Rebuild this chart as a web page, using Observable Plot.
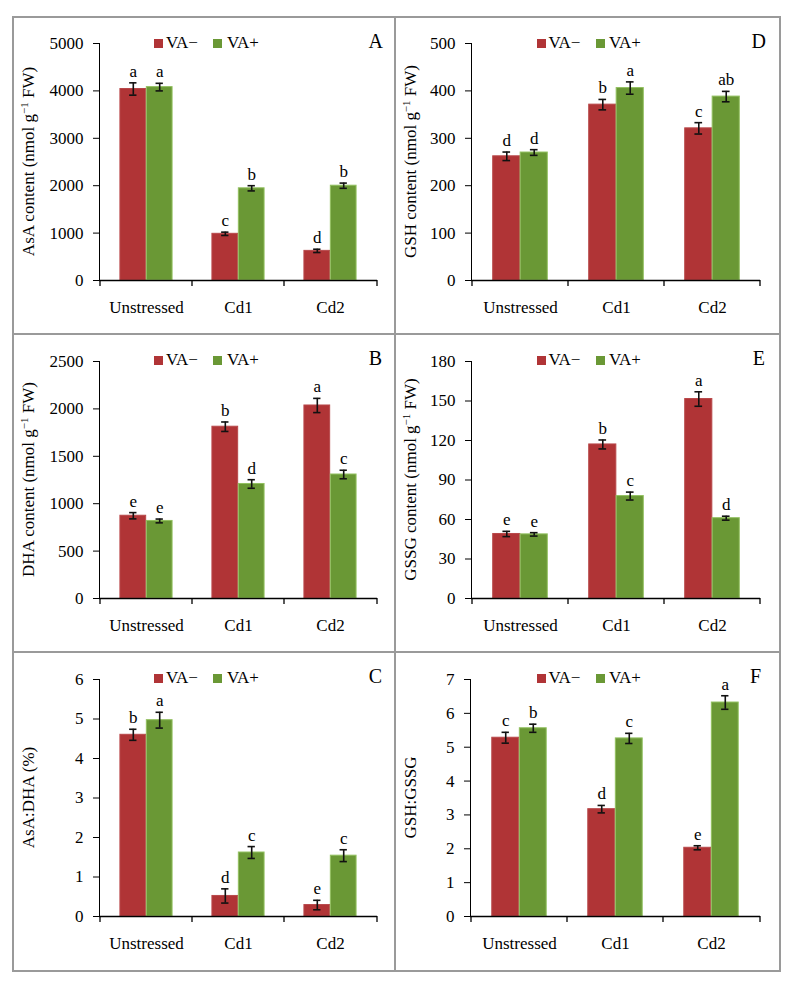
<!DOCTYPE html>
<html><head><meta charset="utf-8">
<script src="https://cdn.jsdelivr.net/npm/d3@7"></script>
<script src="https://cdn.jsdelivr.net/npm/@observablehq/plot@0.6"></script>
<style>
body{margin:0;background:#fff;}
#root{position:relative;width:798px;height:987px;font-family:"Liberation Serif","Times New Roman",serif;color:#000;}
.panel{position:absolute;}
.panel svg{position:absolute;left:0;top:0;overflow:visible;}
.line{position:absolute;background:#9a9a9a;}
.lg{position:absolute;font-size:17px;line-height:17px;white-space:nowrap;}
.sw{position:absolute;width:9px;height:9px;}
.letter{position:absolute;font-size:20px;line-height:20px;}
</style></head><body><div id="root"></div><script>
const categories = ["Unstressed", "Cd1", "Cd2"];
const treatments = ["VA−", "VA+"];
const colors = ["#b03436", "#6a9835"];
const edgeColors = ["#b8484a", "#92c060"];

// A: AsA content
const asaMinus = [4040, 985, 625];
const asaMinusErr = [130, 35, 35];
const asaPlus = [4080, 1945, 2000];
const asaPlusErr = [80, 55, 55];
const asaLettersMinus = ["a", "c", "d"];
const asaLettersPlus = ["a", "b", "b"];
const asaTicks = [0, 1000, 2000, 3000, 4000, 5000];

// D: GSH content
const gshMinus = [262, 371, 321];
const gshMinusErr = [9, 11, 12];
const gshPlus = [270, 406, 388];
const gshPlusErr = [6, 13, 11];
const gshLettersMinus = ["d", "b", "c"];
const gshLettersPlus = ["d", "a", "ab"];
const gshTicks = [0, 100, 200, 300, 400, 500];

// B: DHA content
const dhaMinus = [873, 1812, 2036];
const dhaMinusErr = [33, 50, 75];
const dhaPlus = [818, 1208, 1308];
const dhaPlusErr = [20, 45, 45];
const dhaLettersMinus = ["e", "b", "a"];
const dhaLettersPlus = ["e", "d", "c"];
const dhaTicks = [0, 500, 1000, 1500, 2000, 2500];

// E: GSSG content
const gssgMinus = [49, 117, 151.5];
const gssgMinusErr = [2, 3.4, 5.5];
const gssgPlus = [48.7, 77.8, 61];
const gssgPlusErr = [1.3, 3, 1.5];
const gssgLettersMinus = ["e", "b", "a"];
const gssgLettersPlus = ["e", "c", "d"];
const gssgTicks = [0, 30, 60, 90, 120, 150, 180];

// C: AsA:DHA ratio
const ratioAMinus = [4.6, 0.52, 0.29];
const ratioAMinusErr = [0.14, 0.18, 0.12];
const ratioAPlus = [4.97, 1.62, 1.54];
const ratioAPlusErr = [0.2, 0.15, 0.15];
const ratioALettersMinus = ["b", "d", "e"];
const ratioALettersPlus = ["a", "c", "c"];
const ratioATicks = [0, 1, 2, 3, 4, 5, 6];

// F: GSH:GSSG ratio
const ratioGMinus = [5.28, 3.17, 2.03];
const ratioGMinusErr = [0.16, 0.11, 0.06];
const ratioGPlus = [5.56, 5.26, 6.32];
const ratioGPlusErr = [0.12, 0.15, 0.2];
const ratioGLettersMinus = ["c", "d", "e"];
const ratioGLettersPlus = ["b", "c", "a"];
const ratioGTicks = [0, 1, 2, 3, 4, 5, 6, 7];

const panels = [
  {id: "A", title: ["AsA content (nmol g", "−1", " FW)"], ticks: asaTicks,
   values: [asaMinus, asaPlus], errs: [asaMinusErr, asaPlusErr], letters: [asaLettersMinus, asaLettersPlus],
   left: 12, top: 17, w: 383, h: 317, ml: 87, mr: 18, mt: 26, mb: 54, tx: 16, lr: 12},
  {id: "D", title: ["GSH content (nmol g", "−1", " FW)"], ticks: gshTicks,
   values: [gshMinus, gshPlus], errs: [gshMinusErr, gshPlusErr], letters: [gshLettersMinus, gshLettersPlus],
   left: 395, top: 17, w: 385, h: 317, ml: 76, mr: 20, mt: 26, mb: 54, tx: 15, lr: 14},
  {id: "B", title: ["DHA content (nmol g", "−1", " FW)"], ticks: dhaTicks,
   values: [dhaMinus, dhaPlus], errs: [dhaMinusErr, dhaPlusErr], letters: [dhaLettersMinus, dhaLettersPlus],
   left: 12, top: 334, w: 383, h: 318, ml: 87, mr: 18, mt: 27, mb: 54, tx: 16, lr: 13},
  {id: "E", title: ["GSSG content (nmol g", "−1", " FW)"], ticks: gssgTicks,
   values: [gssgMinus, gssgPlus], errs: [gssgMinusErr, gssgPlusErr], letters: [gssgLettersMinus, gssgLettersPlus],
   left: 395, top: 334, w: 385, h: 318, ml: 76, mr: 20, mt: 27, mb: 54, tx: 15, lr: 15},
  {id: "C", title: ["AsA:DHA (%)"], ticks: ratioATicks,
   values: [ratioAMinus, ratioAPlus], errs: [ratioAMinusErr, ratioAPlusErr], letters: [ratioALettersMinus, ratioALettersPlus],
   left: 12, top: 652, w: 383, h: 320, ml: 87, mr: 18, mt: 27, mb: 56, tx: 16, lr: 13},
  {id: "F", title: ["GSH:GSSG"], ticks: ratioGTicks,
   values: [ratioGMinus, ratioGPlus], errs: [ratioGMinusErr, ratioGPlusErr], letters: [ratioGLettersMinus, ratioGLettersPlus],
   left: 395, top: 652, w: 385, h: 320, ml: 75, mr: 20, mt: 27, mb: 56, tx: 15, lr: 19}
];

const root = document.getElementById("root");

function makePlot(p) {
  const rows = categories.flatMap((c, i) => treatments.map((t, j) => ({
    cat: c, trt: t, value: p.values[j][i], err: p.errs[j][i], letter: p.letters[j][i]
  })));
  const bw = (p.w - p.ml - p.mr) / categories.length;
  const barW = bw * 0.285;
  const inset = (bw - barW) / 2;
  const capInset = (bw - 8) / 2;
  const marks = [];
  treatments.forEach((t, j) => {
    const d = rows.filter(r => r.trt === t);
    const off = (j === 0 ? -1 : 1) * barW / 2;
    marks.push(Plot.barY(d, {x: "cat", y: "value", fill: "trt", stroke: edgeColors[j], strokeWidth: 1, insetLeft: inset, insetRight: inset, dx: off}));
    marks.push(Plot.ruleX(d, {x: "cat", y1: r => r.value - r.err, y2: r => r.value + r.err, dx: off, stroke: "#111", strokeWidth: 1.6}));
    marks.push(Plot.tickY(d, {x: "cat", y: r => r.value + r.err, dx: off, insetLeft: capInset, insetRight: capInset, stroke: "#111", strokeWidth: 1.6}));
    marks.push(Plot.tickY(d, {x: "cat", y: r => r.value - r.err, dx: off, insetLeft: capInset, insetRight: capInset, stroke: "#111", strokeWidth: 1.6}));
    marks.push(Plot.text(d, {x: "cat", y: r => r.value + r.err, text: "letter", dx: off, dy: -6, lineAnchor: "bottom", fontSize: 17, fill: "#000"}));
  });
  marks.push(Plot.ruleY([0], {stroke: "#000", strokeWidth: 1.3}));
  // category boundary ticks on the x axis
  marks.push((index, scales, values, dims) => {
    const g = d3.create("svg:g").attr("stroke", "#000").attr("stroke-width", 1.3);
    const y0 = scales.y(0);
    const xs = categories.map(c => scales.x(c)).concat([dims.width - dims.marginRight]);
    xs.forEach(x => g.append("line").attr("x1", x).attr("x2", x).attr("y1", y0).attr("y2", y0 + 6));
    return g.node();
  });
  // rotated y-axis title with superscript
  marks.push((index, scales, values, dims) => {
    const cy = dims.marginTop + (dims.height - dims.marginTop - dims.marginBottom) / 2;
    const t = d3.create("svg:text")
      .attr("transform", `translate(${p.tx},${cy}) rotate(-90)`)
      .attr("text-anchor", "middle").attr("dy", "0.35em")
      .attr("font-size", 17).attr("fill", "#000");
    t.append("tspan").text(p.title[0]);
    if (p.title.length > 1) {
      t.append("tspan").attr("dy", -6).attr("font-size", 11).text(p.title[1]);
      t.append("tspan").attr("dy", 6).text(p.title[2]);
    }
    return t.node();
  });
  return Plot.plot({
    width: p.w, height: p.h,
    marginLeft: p.ml, marginRight: p.mr, marginTop: p.mt, marginBottom: p.mb,
    style: {fontFamily: "'Liberation Serif','Times New Roman',serif", fontSize: "17px", color: "#000", background: "transparent", overflow: "visible"},
    x: {domain: categories, padding: 0, tickSize: 0, tickPadding: 20, label: null},
    y: {domain: [0, p.ticks[p.ticks.length - 1]], ticks: p.ticks, tickSize: 6, tickPadding: 10, tickFormat: d => String(d), label: null, line: true},
    color: {domain: treatments, range: colors},
    marks
  });
}

panels.forEach(p => {
  const div = document.createElement("div");
  div.className = "panel";
  div.style.left = p.left + "px"; div.style.top = p.top + "px";
  div.style.width = p.w + "px"; div.style.height = p.h + "px";
  div.appendChild(makePlot(p));
  // legend
  const lgX = p.left < 100 ? [142, 154, 201, 215] : [141.5, 153.5, 201, 214];
  treatments.forEach((t, j) => {
    const sw = document.createElement("div");
    sw.className = "sw"; sw.style.background = colors[j];
    sw.style.left = lgX[j * 2] + "px"; sw.style.top = "22px";
    div.appendChild(sw);
    const lab = document.createElement("div");
    lab.className = "lg"; lab.textContent = t;
    lab.style.left = lgX[j * 2 + 1] + "px"; lab.style.top = "17px";
    div.appendChild(lab);
  });
  // panel letter
  const L = document.createElement("div");
  L.className = "letter"; L.textContent = p.id;
  L.style.right = p.lr + "px"; L.style.top = "14px";
  div.appendChild(L);
  root.appendChild(div);
});

// panel frame lines
const lines = [
  [12, 16, 769, 2], [12, 970, 769, 2], [12, 16, 2, 956], [779, 16, 2, 956],
  [394, 16, 2, 956], [12, 333, 769, 2], [12, 651, 769, 2]
];
lines.forEach(([x, y, w, h]) => {
  const l = document.createElement("div");
  l.className = "line";
  l.style.left = x + "px"; l.style.top = y + "px"; l.style.width = w + "px"; l.style.height = h + "px";
  root.appendChild(l);
});
</script></body></html>
